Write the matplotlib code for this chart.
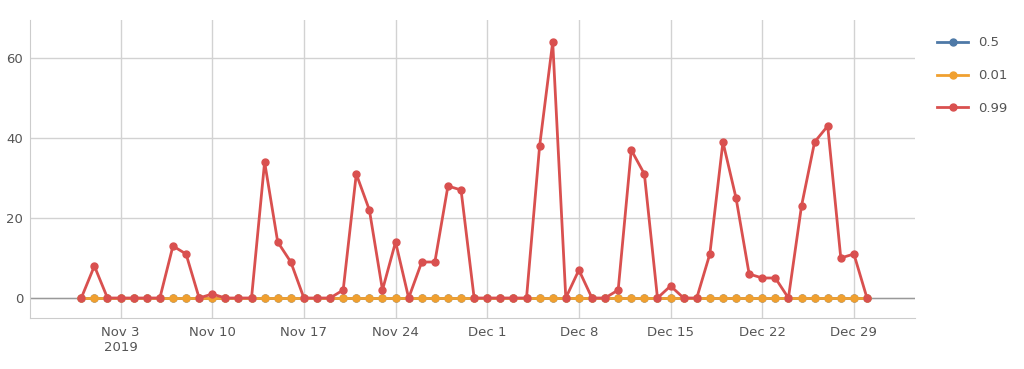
import numpy as np
import pandas as pd
import matplotlib
matplotlib.use("Agg")
import matplotlib.pyplot as plt

dates = pd.date_range("2019-10-31", "2019-12-30", freq="D")

q50 = [0] * 61
q01 = [0] * 61
q99 = [0, 8, 0, 0, 0, 0, 0, 13, 11, 0, 1, 0, 0, 0, 34, 14, 9, 0, 0, 0, 2,
       31, 22, 2, 14, 0, 9, 9, 28, 27, 0,
       0, 0, 0, 0, 38, 64, 0, 7, 0, 0, 2, 37, 31, 0, 3, 0, 0, 11, 39, 25,
       6, 5, 5, 0, 23, 39, 43, 10, 11, 0]

series = [("0.5", q50, "#4e79a7"), ("0.01", q01, "#f0a030"), ("0.99", q99, "#d9504f")]

plt.rcParams["font.family"] = ["DejaVu Sans"]

fig = plt.figure(figsize=(10.24, 3.69), dpi=100)
ax = fig.add_axes([30 / 1024, 51 / 369, 885 / 1024, 298 / 369])

for name, vals, col in series:
    ax.plot(dates, vals, color=col, lw=2, marker="o", ms=5, label=name, zorder=3)

ax.set_xlim(pd.Timestamp("2019-10-27 02:00"), pd.Timestamp("2020-01-02 16:00"))
ax.set_ylim(-5, 69.5)
ax.set_yticks([0, 20, 40, 60])

ticks = pd.date_range("2019-11-03", "2019-12-29", freq="7D")
ax.set_xticks(ticks)
labels = [d.strftime("%b ") + str(d.day) for d in ticks]
labels[0] = labels[0] + "\n2019"
ax.set_xticklabels(labels)

ax.grid(True, color="#d2d2d2", lw=1)
ax.set_axisbelow(True)
ax.axhline(0, color="#999999", lw=1, zorder=1)
for s in ["top", "right"]:
    ax.spines[s].set_visible(False)
for s in ["left", "bottom"]:
    ax.spines[s].set_color("#cccccc")
ax.tick_params(length=0, colors="#555555", labelsize=9.5, pad=6)
ax.tick_params(axis="y", pad=5)

ax.legend(loc="upper left", bbox_to_anchor=(1.012, 0.985), frameon=False,
          fontsize=9.5, labelcolor="#555555", handlelength=2.3,
          labelspacing=1.5)

fig.savefig("out.png", dpi=100)
